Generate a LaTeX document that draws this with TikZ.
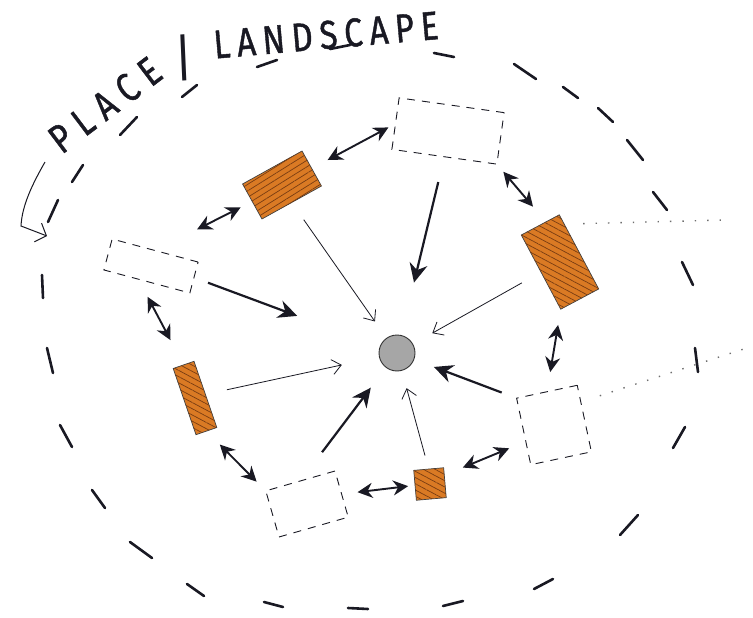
\documentclass[tikz,border=0pt]{standalone}
\usepackage{fontspec}
\setmainfont{Fira Sans}
\newfontfamily\handA[LetterSpace=30,FakeBold=1.2]{Fira Sans}
\newfontfamily\handB[LetterSpace=21,FakeBold=1.2]{Fira Sans}
\usetikzlibrary{arrows.meta,patterns.meta,calc}
\definecolor{inkC}{RGB}{25,25,35}
\definecolor{orangeC}{RGB}{218,122,36}
\definecolor{hatchC}{RGB}{120,60,18}
\definecolor{dotC}{RGB}{110,110,110}
\tikzset{
  orangebox/.style={draw=black!75, line width=0.7pt, fill=orangeC, inner sep=0pt, outer sep=0pt,
    postaction={pattern={Lines[angle=-28,distance=5.5pt,line width=0.7pt]}, pattern color=hatchC}},
  orangeboxB/.style={draw=black!75, line width=0.7pt, fill=orangeC, inner sep=0pt, outer sep=0pt,
    postaction={pattern={Lines[angle=32,distance=5.5pt,line width=0.7pt]}, pattern color=hatchC}},
  dashbox/.style={draw=inkC, line width=0.9pt, dash pattern=on 8pt off 7pt, inner sep=0pt, outer sep=0pt},
  thickarrow/.style={-{Stealth[length=19pt,width=18pt]}, line width=2.2pt, draw=inkC},
  thinarrow/.style={-{Straight Barb[length=9pt,width=15pt]}, line width=0.8pt, draw=inkC},
  twoway/.style={{Stealth[length=15pt,width=15pt]}-{Stealth[length=15pt,width=15pt]}, line width=1.9pt, draw=inkC},
  dotline/.style={line width=1.4pt, dash pattern=on 1.4pt off 11pt, draw=dotC},
  outerdash/.style={line width=2.6pt, line cap=round, draw=inkC},
  handtext/.style={inkC, inner sep=0pt}
}
\begin{document}
\begin{tikzpicture}[x=1pt,y=-1pt]
\useasboundingbox (0,0) rectangle (753,618);
\fill[white] (0,0) rectangle (753,618);

% outer dashed boundary (hand drawn dashes)
\foreach \a/\b/\c/\d in {
  330/49/350/45, 434/53/454/57, 514/64/536/79, 563/87/578/98, 598/108/613/122,
  627/140/643/160, 653/192/667/210, 682/262/693/285, 695/348/698/372, 673/448/685/427,
  620/535/638/515, 534/589/553/579, 443/606/463/601, 348/608/368/609, 264/602/283/607,
  187/584/204/596, 130/542/152/558, 92/490/105/508, 60/425/72/447, 47/348/53/373,
  42/275/43/298, 48/222/58/200, 72/182/83/165, 120/135/137/117, 182/97/197/85,
  257/67/277/60}
  \draw[outerdash] (\a,\b) -- (\c,\d);

% title
\node[handtext, font=\handA\fontsize{40}{40}\selectfont, rotate=37] (place) at (105,105) {\scalebox{0.82}[1]{PLACE}};
\node[handtext, font=\fontsize{50}{50}\selectfont, rotate=17] (slash) at (183.5,58) {/};
\node[handtext, font=\handB\fontsize{40}{40}\selectfont, rotate=5] (land) at (326,35) {\scalebox{0.82}[1]{LANDSCAPE}};

% hand drawn curved arrow
\coordinate (arcS) at (45,162);
\coordinate (arcE) at (47,236);
\draw[line width=1pt, draw=inkC, -{Straight Barb[length=9pt,width=20pt]}]
  (arcS) .. controls (33,183) and (22,205) .. (21,226) -- (arcE);

% centre
\node[circle, minimum size=36pt, inner sep=0pt, fill=gray!70, draw=black!80, line width=0.9pt] (c) at (397,353) {};

% orange (hatched) elements
\node[orangeboxB, minimum width=68pt, minimum height=40pt, rotate=29] (o1) at (282,185) {};
\node[orangebox, minimum width=43pt, minimum height=84pt, rotate=28] (orr) at (560,262) {};
\node[orangebox, minimum width=22pt, minimum height=70pt, rotate=19] (ol) at (195,398) {};
\node[orangebox, minimum width=30pt, minimum height=30pt, rotate=5] (os) at (430,484) {};

% dashed (empty) elements
\node[dashbox, minimum width=106pt, minimum height=52pt, rotate=-8] (dt) at (448,131) {};
\node[dashbox, minimum width=89pt, minimum height=32pt, rotate=-15] (dl) at (151,266) {};
\node[dashbox, minimum width=72pt, minimum height=48pt, rotate=16] (dbl) at (307,504) {};
\node[dashbox, minimum width=62pt, minimum height=68pt, rotate=12] (dr) at (554,425) {};

% two-way links around the ring
\draw[twoway, shorten <=18pt, shorten >=8pt] (o1.east) -- (dt.west);
\draw[twoway, shorten <=47pt, shorten >=13pt] (dl.north) -- (o1.west);
\draw[twoway, shorten <=10pt, shorten >=20pt] (dt.south east) -- ($(orr.north)!0.3!(orr.north east)$);
\draw[twoway, shorten <=20pt, shorten >=28pt] ($(dl.south)!0.2!(dl.south west)$) -- (ol.north);
\draw[twoway, shorten <=16pt, shorten >=20pt] (orr.south west) -- (dr.north);
\draw[twoway, shorten <=19pt, shorten >=13pt] (ol.south) -- (dbl.north west);
\draw[twoway, shorten <=16pt, shorten >=7pt] (dbl.east) -- (os.west);
\draw[twoway, shorten <=20pt, shorten >=18pt] ($(os.east)!0.5!(os.north east)$) -- ($(dr.west)!0.3!(dr.south west)$);

% thick arrows to the centre (from empty elements)
\draw[thickarrow, shorten <=26pt, shorten >=54pt] (dt.south) -- (c);
\draw[thickarrow, shorten <=15pt, shorten >=88pt] (dl.east) -- (c);
\draw[thickarrow, shorten <=36pt, shorten >=25pt] (dbl.north) -- (c);
\draw[thickarrow, shorten <=16pt, shorten >=21pt] (dr.north west) -- (c);

% thin arrows to the centre (from orange elements)
\draw[thinarrow, shorten <=21pt, shorten >=20pt] (o1.south) -- (c);
\draw[thinarrow, shorten <=22pt, shorten >=22pt] (orr.west) -- (c);
\draw[thinarrow, shorten <=22pt, shorten >=38pt] (ol.east) -- (c);
\draw[thinarrow, shorten <=14pt, shorten >=18pt] (os.north) -- (c);

% dotted lines leading outward
\coordinate (dotA) at (725,220);
\coordinate (dotB) at (753,346);
\draw[dotline, shorten <=19pt] ($(orr.north east)!0.25!(orr.east)$) -- (dotA);
\draw[dotline, shorten <=20pt] ($(dr.east)!0.5!(dr.north east)$) -- (dotB);
\end{tikzpicture}
\end{document}
